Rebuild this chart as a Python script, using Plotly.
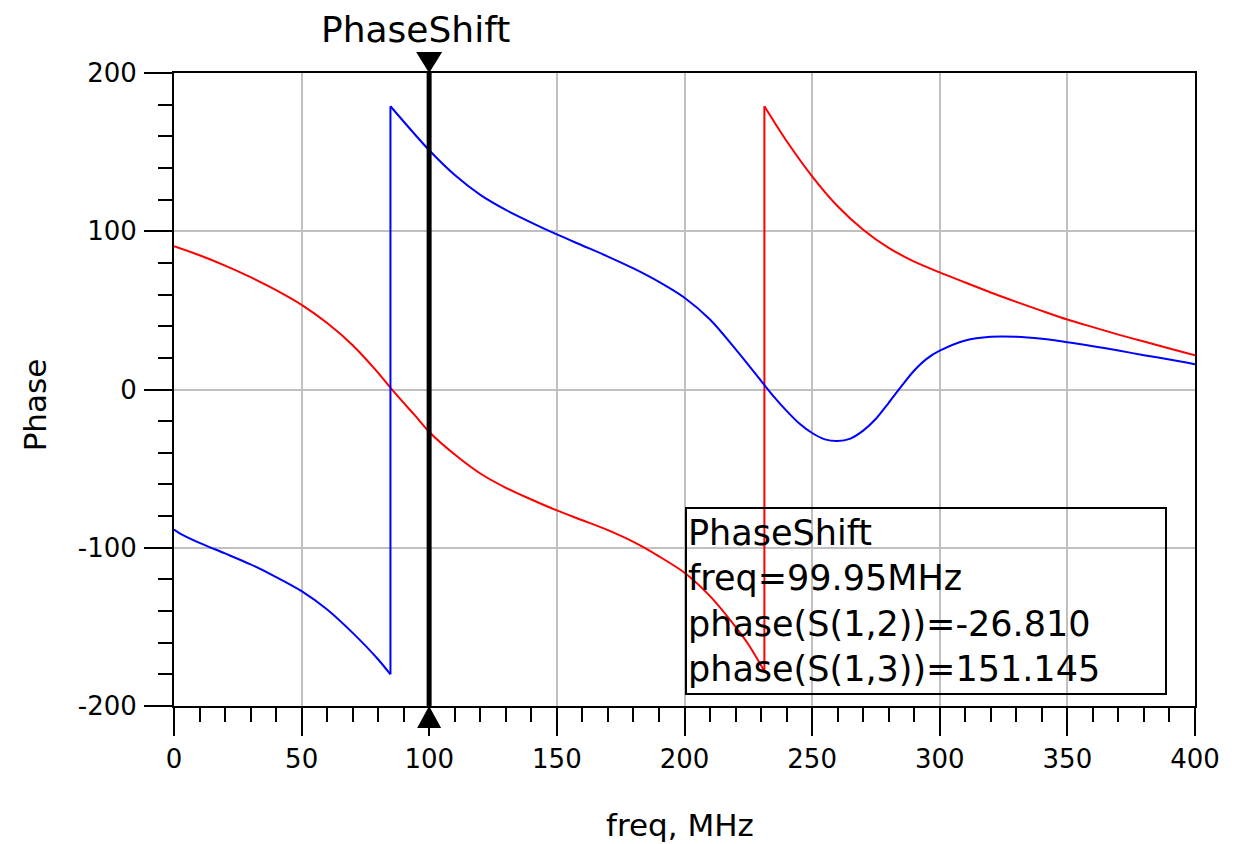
import plotly.graph_objects as go

# ---------------- data ----------------
freq_s12 = [0, 10, 20, 30, 40, 50, 60, 70, 80, 84.6, 90, 95, 100, 110, 120, 130,
            140, 150, 160, 170, 180, 190, 200, 210, 220, 225, 231.3, 231.3, 240,
            250, 260, 270, 280, 290, 300, 310, 320, 330, 340, 350, 360, 370, 380,
            390, 400]
phase_s12 = [90.5, 84.8, 78.3, 71, 62.8, 53.5, 42, 28, 10.5, 1.5, -8.5, -17.5, -26.81,
             -41.1, -53.1, -62.1, -69.5, -76.4, -82.6, -88.9, -96.3, -105.4, -115.8,
             -130.6, -150, -161, -178, 179, 157, 134.7, 115.8, 101, 89.5, 80.8, 74,
             67.6, 61.3, 55.4, 49.7, 44.2, 39.4, 34.7, 30.3, 25.9, 21.7]

freq_s13 = [0, 2.4, 10, 20, 30, 40, 50, 60, 70, 80, 84.8, 84.8, 100, 110, 120, 130,
            140, 150, 160, 170, 180, 190, 200, 210, 220, 230, 235, 240, 245, 250,
            255, 260, 265, 270, 275, 280, 285, 290, 295, 300, 310, 320, 330, 340, 350,
            360, 370, 380, 390, 400]
phase_s13 = [-88.5, -91, -96.9, -103.6, -110.5, -118.5, -127.4, -139, -153.8,
             -170.6, -180, 179, 151.145, 135.5, 123, 113.5, 105.5, 98, 91, 84,
             76.5, 68, 58, 44.2, 25.5, 5.5, -4.5, -13.5, -21.5, -27.5, -31.5, -32.6,
             -31, -26, -18.5, -8.4, 2.1, 12, 19.5, 24.5, 31, 33.3, 33.3, 32, 29.9,
             27.4, 24.6, 21.7, 19, 16]

marker_freq = 99.95
marker_name = "PhaseShift"
marker_s12 = -26.810
marker_s13 = 151.145

x_ticks = [0, 50, 100, 150, 200, 250, 300, 350, 400]
x_tick_labels = ["0", "50", "100", "150", "200", "250", "300", "350", "400"]
y_ticks = [-200, -100, 0, 100, 200]
y_tick_labels = ["-200", "-100", "0", "100", "200"]

FONT = "DejaVu Sans"

fig = go.Figure()


def add_wrapped(xs, ys, color, name):
    """Draw smooth branches, joined by the vertical wrap segment(s)."""
    cuts = [i for i in range(len(xs) - 1) if xs[i] == xs[i + 1]]
    start = 0
    for c in cuts + [len(xs) - 1]:
        fig.add_trace(go.Scatter(x=xs[start:c + 1], y=ys[start:c + 1], mode="lines",
                                 line=dict(color=color, width=2, shape="spline",
                                           smoothing=0.8),
                                 name=name, showlegend=False))
        if c < len(xs) - 1:
            fig.add_trace(go.Scatter(x=xs[c:c + 2], y=ys[c:c + 2], mode="lines",
                                     line=dict(color=color, width=2),
                                     name=name, showlegend=False))
        start = c + 1


add_wrapped(freq_s12, phase_s12, "#ff0000", "phase(S(1,2))")
add_wrapped(freq_s13, phase_s13, "#0000ff", "phase(S(1,3))")

axis_common = dict(
    showline=True, linecolor="black", linewidth=2, mirror=True,
    ticks="outside", ticklen=28, tickwidth=2, tickcolor="black",
    showgrid=True, gridcolor="#c0c0c0", gridwidth=2, zeroline=False,
    tickfont=dict(family=FONT, size=26, color="black"),
)

fig.update_xaxes(range=[0, 400], tickvals=x_ticks, ticktext=x_tick_labels,
                 minor=dict(dtick=10, ticklen=14, tickwidth=2, tickcolor="black",
                            ticks="outside", showgrid=False),
                 ticklabelstandoff=1, **axis_common)
fig.update_yaxes(range=[-200, 200], tickvals=y_ticks, ticktext=y_tick_labels,
                 minor=dict(dtick=20, ticklen=14, tickwidth=2, tickcolor="black",
                            ticks="outside", showgrid=False),
                 ticklabelstandoff=2, **axis_common)

# marker line and triangles
fig.add_shape(type="line", x0=marker_freq, x1=marker_freq, y0=-200, y1=200,
              xref="x", yref="y", line=dict(color="black", width=5))
fig.add_shape(type="path", xref="x", yref="paper", xsizemode="pixel", ysizemode="pixel",
              xanchor=marker_freq, yanchor=1,
              path="M -13,21 L 13,21 L 0,0 Z", fillcolor="black", line=dict(width=0))
fig.add_shape(type="path", xref="x", yref="paper", xsizemode="pixel", ysizemode="pixel",
              xanchor=marker_freq, yanchor=0,
              path="M -12,-22 L 12,-22 L 0,0 Z", fillcolor="black", line=dict(width=0))

annotations = [
    dict(x=marker_freq, y=1, xref="x", yref="paper", text=marker_name, showarrow=False,
         xanchor="center", yanchor="middle", xshift=-14, yshift=44,
         font=dict(family=FONT, size=36, color="black")),
    dict(x=200, y=-74, xref="x", yref="y",
         text=(f"{marker_name}<br>freq={marker_freq}MHz<br>"
               f"phase(S(1,2))={marker_s12:.3f}<br>phase(S(1,3))={marker_s13:.3f}"),
         showarrow=False, xanchor="left", yanchor="top", align="left",
         bordercolor="black", borderwidth=2, borderpad=1, width=476, height=182,
         font=dict(family=FONT, size=35, color="black")),
    dict(x=0, y=-10, xref="paper", yref="y", text="Phase", showarrow=False,
         textangle=-90, xanchor="center", yanchor="middle", xshift=-139,
         font=dict(family=FONT, size=31, color="black")),
    dict(x=0.5, y=0, xref="paper", yref="paper", text="freq, MHz", showarrow=False,
         xanchor="center", yanchor="middle", xshift=-5, yshift=-119,
         font=dict(family=FONT, size=31, color="black")),
]

fig.update_layout(
    width=1249, height=844,
    margin=dict(l=174, r=54, t=73, b=138),
    paper_bgcolor="white", plot_bgcolor="white",
    showlegend=False,
    annotations=annotations,
    font=dict(family=FONT, color="black"),
)

fig.write_html("out.html")
